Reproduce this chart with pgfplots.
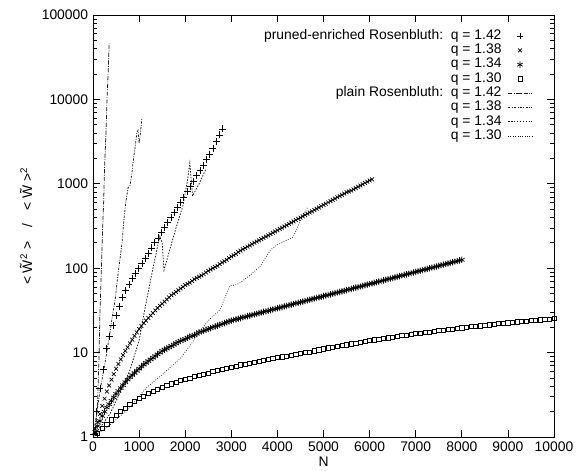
\documentclass[border=0pt]{standalone}
\usepackage{fontspec}
\setmainfont{Liberation Sans}
\usepackage{pgfplots}
\pgfplotsset{compat=1.18}
\usetikzlibrary{calc}
\begin{document}
\begin{tikzpicture}
\begin{axis}[
  scale only axis, width=332pt, height=304pt,
  xmin=0, xmax=10000, ymin=1, ymax=100000, ymode=log,
  xtick={0,1000,...,10000},
  ytick={1,10,100,1000,10000,100000},
  yticklabels={1,10,100,1000,10000,100000},
  /pgf/number format/assume math mode=true,
  /pgf/number format/1000 sep={},
  scaled x ticks=false,
  tick align=inside,
  major tick length=5pt, minor tick length=2.8pt,
  tick style={black, line width=0.5pt},
  axis line style={line width=0.6pt},
  ticklabel style={font=\fontsize{10}{12}\selectfont},
  xlabel={N}, xlabel style={yshift=3pt},
  ylabel={\textless{} \~{W}\textsuperscript{2} \textgreater{}\quad/\quad\textless{} \~{W} \textgreater\textsuperscript{2}},
  legend plot pos=right,
  legend cell align=right,
  legend style={draw=none, fill=none, inner sep=0pt, at={(1,1)}, xshift=-15.5pt, yshift=-9.8pt, anchor=north east,
    font=\fontsize{10}{11}\selectfont, row sep=0pt, column sep=0pt,
    nodes={inner sep=0pt, text height=7.5pt, text depth=2.8pt},
    /tikz/every odd column/.append style={column sep=4.5pt}},
]
\addplot[only marks, mark=+, mark size=2.5pt, black, mark options={line width=0.5pt}] coordinates {
(10,1.07)(80,2.0)(150,3.8)(220,6.3)(290,11.2)(360,15.5)(430,21)(500,27.5)(570,35.5)(640,44.7)(710,55)(780,64.6)(850,76)(920,87)(990,100)(1060,115)(1130,132)(1200,151)(1270,174)(1340,200)(1410,229)(1480,263)(1550,302)(1620,347)(1690,398)(1760,457)(1830,525)(1900,603)(1970,692)(2040,813)(2110,933)(2180,1072)(2250,1259)(2320,1445)(2390,1660)(2460,1950)(2530,2239)(2600,2630)(2670,3162)(2740,3802)(2810,4467)
};
\addlegendentry{pruned-enriched Rosenbluth:\ \ q = 1.42}
\addplot[only marks, mark=x, mark size=1.9pt, black, mark options={line width=0.5pt}] coordinates {
(50,1.25)(100,1.51)(200,2.34)(300,3.47)(400,4.79)(500,6.46)(600,8.32)(700,10.5)(800,12.9)(900,15.8)(1000,19.1)(1100,22.4)(1200,25.7)(1300,29.5)(1400,33.9)(1500,38.0)(1600,42.7)(1700,47.9)(1800,52.5)(1900,57.5)(2000,63.1)(2100,67.6)(2200,74.1)(2300,79.4)(2400,85.1)(2500,93.3)(2600,100)(2700,107)(2800,117)(2900,126)(3000,138)(3100,148)(3200,162)(3300,174)(3400,186)(3500,200)(3600,214)(3700,229)(3800,245)(3900,263)(4000,282)(4100,302)(4200,324)(4300,347)(4400,372)(4500,398)(4600,427)(4700,457)(4800,490)(4900,525)(5000,562)(5100,603)(5200,646)(5300,692)(5400,741)(5500,794)(5600,832)(5700,891)(5800,955)(5900,1023)(6000,1096)
(150,1.88)(250,2.85)(350,4.08)(450,5.56)(550,7.33)(650,9.35)(750,11.6)(850,14.3)(950,17.4)(1050,20.7)(1150,24.0)(1250,27.5)(1350,31.6)(1450,35.9)(1550,40.3)(1650,45.2)(1750,50.1)(1850,54.9)(1950,60.2)(2050,65.3)(2150,70.8)(2250,76.7)(2350,82.2)(2450,89.1)(2550,96.6)(2650,103.4)(2750,112)(2850,121)(2950,132)(3050,143)(3150,155)(3250,168)(3350,180)(3450,193)(3550,207)(3650,221)(3750,237)(3850,254)(3950,272)(4050,292)(4150,313)(4250,335)(4350,359)(4450,385)(4550,412)(4650,442)(4750,473)(4850,507)(4950,543)(5050,582)(5150,624)(5250,669)(5350,716)(5450,767)(5550,813)(5650,861)(5750,922)(5850,988)(5950,1059)(6050,1130)
};
\addlegendentry{q = 1.38}
\addplot[only marks, mark=asterisk, mark size=2.3pt, black, mark options={line width=0.5pt}] coordinates {
(50,1.15)(100,1.35)(200,1.78)(300,2.24)(400,2.69)(500,3.24)(600,3.80)(700,4.47)(800,5.13)(900,5.75)(1000,6.46)(1100,7.24)(1200,7.94)(1300,8.71)(1400,9.55)(1500,10.5)(1600,11.2)(1700,12.0)(1800,12.9)(1900,13.8)(2000,14.5)(2100,15.5)(2200,16.2)(2300,17.4)(2400,18.2)(2500,19.1)(2600,20.0)(2700,20.9)(2800,21.9)(2900,22.9)(3000,24.0)(3100,24.8)(3200,25.7)(3300,26.6)(3400,27.5)(3500,28.4)(3600,29.4)(3700,30.4)(3800,31.4)(3900,32.5)(4000,33.6)(4100,34.7)(4200,35.9)(4300,37.1)(4400,38.4)(4500,39.6)(4600,40.9)(4700,42.4)(4800,43.8)(4900,45.2)(5000,46.8)(5100,48.3)(5200,49.9)(5300,51.6)(5400,53.3)(5500,55.1)(5600,57.0)(5700,58.9)(5800,60.8)(5900,63.0)(6000,65.0)(6100,67.1)(6200,69.5)(6300,71.8)(6400,74.3)(6500,76.7)(6600,79.3)(6700,82.0)(6800,84.7)(6900,87.5)(7000,90.6)(7100,93.5)(7200,96.6)(7300,100)(7400,103.3)(7500,106.7)(7600,110.4)(7700,114.0)(7800,117.8)(7900,121.9)(8000,125.9)
(150,1.55)(250,2.0)(350,2.45)(450,2.95)(550,3.51)(650,4.12)(750,4.79)(850,5.43)(950,6.09)(1050,6.84)(1150,7.58)(1250,8.32)(1350,9.12)(1450,10.0)(1550,10.85)(1650,11.6)(1750,12.45)(1850,13.35)(1950,14.15)(2050,15.0)(2150,15.85)(2250,16.8)(2350,17.8)(2450,18.65)(2550,19.55)(2650,20.45)(2750,21.4)(2850,22.4)(2950,23.45)(3050,24.4)(3150,25.25)(3250,26.15)(3350,27.05)(3450,27.95)(3550,28.9)(3650,29.9)(3750,30.9)(3850,31.95)(3950,33.05)(4050,34.15)(4150,35.3)(4250,36.5)(4350,37.75)(4450,39.0)(4550,40.25)(4650,41.65)(4750,43.1)(4850,44.5)(4950,46.0)(5050,47.55)(5150,49.1)(5250,50.75)(5350,52.45)(5450,54.2)(5550,56.05)(5650,57.95)(5750,59.85)(5850,61.9)(5950,64.0)(6050,66.05)(6150,68.3)(6250,70.65)(6350,73.05)(6450,75.5)(6550,78.0)(6650,80.65)(6750,83.35)(6850,86.1)(6950,89.05)(7050,92.05)(7150,95.05)(7250,98.3)(7350,101.6)(7450,105.0)(7550,108.5)(7650,112.2)(7750,115.9)(7850,119.8)(7950,123.9)
};
\addlegendentry{q = 1.34}
\addplot[only marks, mark=square, mark size=1.5pt, black, mark options={line width=0.5pt}] coordinates {
(50,1.05)(100,1.12)(200,1.26)(300,1.43)(400,1.60)(500,1.80)(600,2.00)(700,2.21)(800,2.43)(900,2.63)(1000,2.85)(1100,3.05)(1200,3.27)(1300,3.47)(1400,3.67)(1500,3.89)(1600,4.07)(1700,4.27)(1800,4.47)(1900,4.68)(2000,4.84)(2100,5.01)(2200,5.19)(2300,5.37)(2400,5.56)(2500,5.75)(2600,5.96)(2700,6.17)(2800,6.31)(2900,6.53)(3000,6.76)(3100,6.92)(3200,7.16)(3300,7.33)(3400,7.50)(3500,7.67)(3600,7.85)(3700,8.13)(3800,8.32)(3900,8.51)(4000,8.71)(4100,8.91)(4200,9.12)(4300,9.33)(4400,9.55)(4500,9.77)(4600,10.0)(4700,10.2)(4800,10.5)(4900,10.8)(5000,11.1)(5100,11.4)(5200,11.6)(5300,11.9)(5400,12.2)(5500,12.4)(5600,12.7)(5700,13.0)(5800,13.3)(5900,13.6)(6000,14.0)(6100,14.2)(6200,14.5)(6300,14.8)(6400,15.0)(6500,15.3)(6600,15.6)(6700,15.9)(6800,16.2)(6900,16.5)(7000,16.8)(7100,17.1)(7200,17.3)(7300,17.6)(7400,17.9)(7500,18.2)(7600,18.5)(7700,18.8)(7800,19.1)(7900,19.4)(8000,19.7)(8100,20.0)(8200,20.3)(8300,20.6)(8400,20.8)(8500,21.1)(8600,21.4)(8700,21.7)(8800,22.0)(8900,22.3)(9000,22.6)(9100,22.9)(9200,23.2)(9300,23.4)(9400,23.7)(9500,24.0)(9600,24.3)(9700,24.5)(9800,24.8)(9900,25.1)(10000,25.7)
};
\addlegendentry{q = 1.30}
\addplot[black!90, line width=0.55pt, dash pattern=on 3pt off 1pt on 0.6pt off 1pt] coordinates {
(0,1)(40,1.1)(70,1.6)(100,2.7)(130,9)(150,30)(180,90)(200,220)(230,600)(250,1500)(280,4000)(300,9000)(330,22000)(350,46000)
};
\addlegendentry{plain Rosenbluth:\ \ q = 1.42}
\addplot[black!90, line width=0.55pt, dash pattern=on 1.6pt off 1pt on 0.6pt off 1pt] coordinates {
(0,1)(80,1.9)(150,3.5)(260,7.6)(350,15)(420,27)(480,42)(530,75)(590,135)(630,200)(670,380)(710,600)(760,900)(800,950)(840,1300)(880,2000)(920,2900)(950,4000)(975,4300)(1000,3000)(1020,3600)(1060,6000)
};
\addlegendentry{q = 1.38}
\addplot[black!90, line width=0.55pt, dash pattern=on 1.1pt off 1pt] coordinates {
(0,1)(200,1.4)(370,1.9)(600,3.5)(800,6.2)(1000,14)(1100,28)(1190,50)(1300,100)(1400,180)(1450,240)(1500,200)(1540,95)(1670,170)(1800,300)(1950,550)(2050,1100)(2100,1770)(2160,720)(2300,1000)(2450,1500)
};
\addlegendentry{q = 1.34}
\addplot[black!90, line width=0.55pt, dash pattern=on 0.5pt off 1.2pt] coordinates {
(0,1)(300,1.3)(650,1.9)(870,2.5)(1170,3.9)(1500,5.5)(1890,8.5)(2100,12)(2320,18)(2500,24)(2750,32)(2970,62)(3120,64)(3200,68)(3400,82)(3620,105)(3850,165)(4000,190)(4200,215)(4340,232)(4450,320)(4550,420)(4650,520)
};
\addlegendentry{q = 1.30}
\end{axis}
\pgfresetboundingbox
\path ($(current axis.south west)+(-67pt,-23.8pt)$) rectangle ($(current axis.north east)+(21.6pt,10.8pt)$);
\end{tikzpicture}
\end{document}
